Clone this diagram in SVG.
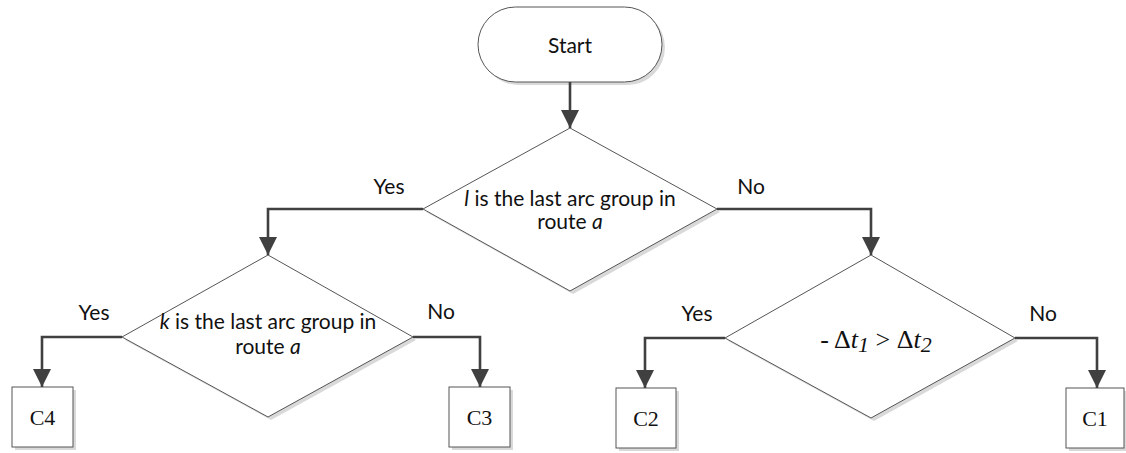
<svg xmlns="http://www.w3.org/2000/svg" width="1126" height="453" viewBox="0 0 1126 453">
  <style>
    .shape { fill: #ffffff; stroke: #555555; stroke-width: 1; }
    .shadow { fill: #d9d9d9; stroke: none; }
    .conn { fill: none; stroke: #404040; stroke-width: 2.6; }
    .lbl { font-family: Lato, "Open Sans", sans-serif; font-size: 21px; fill: #111111; text-anchor: middle; }
    .box { font-family: "Liberation Serif", serif; font-size: 22px; fill: #111111; text-anchor: middle; }
    .math { font-family: "Liberation Serif", serif; font-size: 26px; fill: #111111; }
    .it { font-style: italic; }
  </style>
  <defs>
    <marker id="arrow" markerUnits="userSpaceOnUse" markerWidth="20" markerHeight="20" refX="18" refY="9" orient="auto">
      <path d="M0 0 L18 9 L0 18 Z" fill="#404040"/>
    </marker>
  </defs>

  <!-- terminator -->
  <g id="start">
    <rect class="shadow" x="481" y="10" width="184" height="75" rx="37.5"/>
    <rect class="shape" x="478" y="7" width="184" height="75" rx="37.5"/>
    <text class="lbl" x="570" y="53">Start</text>
  </g>

  <!-- decision: l is last arc group -->
  <g id="decision-l">
    <polygon class="shadow" points="573,131 720,212 573,294 426,212"/>
    <polygon class="shape" points="570,128 717,209 570,291 423,209"/>
    <text class="lbl" x="570" y="206"><tspan class="it">l</tspan> is the last arc group in</text>
    <text class="lbl" x="570" y="229">route <tspan class="it">a</tspan></text>
  </g>

  <!-- decision: k is last arc group -->
  <g id="decision-k">
    <polygon class="shadow" points="271,258 416,340 271,420 125,340"/>
    <polygon class="shape" points="268,255 413,337 268,417 122,337"/>
    <text class="lbl" x="268" y="329"><tspan class="it">k</tspan> is the last arc group in</text>
    <text class="lbl" x="268" y="354">route <tspan class="it">a</tspan></text>
  </g>

  <!-- decision: time difference comparison -->
  <g id="decision-dt">
    <polygon class="shadow" points="874,258 1018,341 874,421 728,341"/>
    <polygon class="shape" points="871,255 1015,338 871,418 725,338"/>
    <text class="math" x="876" y="348" text-anchor="middle">- Δ<tspan class="it">t</tspan><tspan class="it" font-size="22" dy="4">1</tspan><tspan dy="-4"> &gt; Δ</tspan><tspan class="it">t</tspan><tspan class="it" font-size="22" dy="4">2</tspan></text>
  </g>

  <!-- outcome boxes -->
  <g id="c4">
    <rect class="shadow" x="15" y="390" width="61" height="60"/>
    <rect class="shape" x="12" y="387" width="61" height="60"/>
    <text class="box" x="42.5" y="425">C4</text>
  </g>
  <g id="c3">
    <rect class="shadow" x="452" y="390" width="61" height="60"/>
    <rect class="shape" x="449" y="387" width="61" height="60"/>
    <text class="box" x="479.5" y="425">C3</text>
  </g>
  <g id="c2">
    <rect class="shadow" x="619" y="391" width="60" height="60"/>
    <rect class="shape" x="616" y="388" width="60" height="60"/>
    <text class="box" x="646" y="426">C2</text>
  </g>
  <g id="c1">
    <rect class="shadow" x="1069" y="391" width="57" height="60"/>
    <rect class="shape" x="1066" y="388" width="58" height="60"/>
    <text class="box" x="1095" y="426">C1</text>
  </g>

  <!-- connectors -->
  <g id="connectors">
    <path class="conn" d="M570 82 V128" marker-end="url(#arrow)"/>
    <path class="conn" d="M423 209 H268 V255" marker-end="url(#arrow)"/>
    <path class="conn" d="M717 209 H871 V255" marker-end="url(#arrow)"/>
    <path class="conn" d="M122 337 H42 V387" marker-end="url(#arrow)"/>
    <path class="conn" d="M413 337 H480 V387" marker-end="url(#arrow)"/>
    <path class="conn" d="M725 338 H645 V388" marker-end="url(#arrow)"/>
    <path class="conn" d="M1015 338 H1097 V388" marker-end="url(#arrow)"/>
  </g>

  <!-- branch labels -->
  <g id="labels">
    <text class="lbl" x="389" y="194">Yes</text>
    <text class="lbl" x="751" y="194">No</text>
    <text class="lbl" x="94" y="320">Yes</text>
    <text class="lbl" x="441" y="319">No</text>
    <text class="lbl" x="697" y="321">Yes</text>
    <text class="lbl" x="1043" y="321">No</text>
  </g>
</svg>
